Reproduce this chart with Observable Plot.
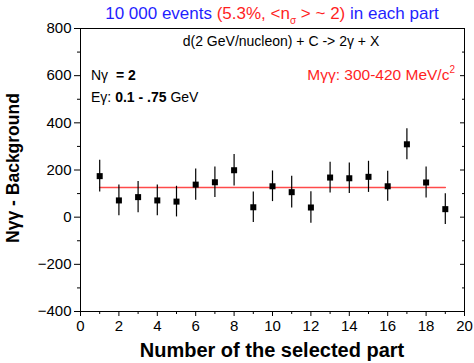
<!DOCTYPE html>
<html>
<head>
<meta charset="utf-8">
<script src="https://cdn.jsdelivr.net/npm/d3@7"></script>
<script src="https://cdn.jsdelivr.net/npm/@observablehq/plot@0.6"></script>
<style>
  html, body { margin: 0; padding: 0; background: #fff; }
  #chart { width: 474px; height: 363px; }
</style>
</head>
<body>
<div id="chart"></div>
<script>
// Data
const parts  = [1, 2, 3, 4, 5, 6, 7, 8, 9, 10, 11, 12, 13, 14, 15, 16, 17, 18, 19];
const values = [174, 71, 85, 71, 66, 138, 148, 199, 42, 131, 106, 41, 168, 165, 171, 131, 309, 147, 34];
const errors = [67, 65, 66, 65, 65, 66, 65, 67, 65, 65, 67, 67, 65, 65, 66, 64, 66, 66, 65];
const fitX = [1, 19];
const fitY = [126, 126];
const yMajor = [-400, -200, 0, 200, 400, 600, 800];
const yMinor = [-300, -100, 100, 300, 500, 700];
const xMajor = [0, 2, 4, 6, 8, 10, 12, 14, 16, 18, 20];
const xMinor = [1, 3, 5, 7, 9, 11, 13, 15, 17, 19];

const data = parts.map((p, i) => ({part: p, v: values[i], lo: values[i] - errors[i], hi: values[i] + errors[i]}));
const fit = fitX.map((x, i) => ({x, y: fitY[i]}));

const font = "'Liberation Sans', Arial, sans-serif";
const blank = () => "";

const plot = Plot.plot({
  width: 474,
  height: 363,
  marginLeft: 80,
  marginRight: 10,
  marginTop: 28,
  marginBottom: 52,
  style: {fontFamily: font, fontSize: "15px", color: "#000", background: "#fff"},
  x: {domain: [0, 20], label: null},
  y: {domain: [-400, 800], label: null},
  marks: [
    Plot.frame({stroke: "#000", strokeWidth: 1}),
    Plot.axisY({ticks: yMajor, tickSize: 6, tickPadding: 3, fontSize: 15, label: null}),
    Plot.axisY({ticks: yMinor, tickSize: 3, tickFormat: blank, label: null}),
    Plot.axisY({anchor: "right", ticks: yMajor, tickSize: 5, dx: -5, tickFormat: blank, label: null}),
    Plot.axisY({anchor: "right", ticks: yMinor, tickSize: 3, dx: -3, tickFormat: blank, label: null}),
    Plot.axisX({ticks: xMajor, tickSize: 5, tickPadding: 4, fontSize: 15, label: null}),
    Plot.axisX({ticks: xMinor, tickSize: 3, tickFormat: blank, label: null}),
    Plot.line(fit, {x: "x", y: "y", stroke: "#ff2a2a", strokeWidth: 1.6, strokeOpacity: 0.85}),
    Plot.ruleX(data, {x: "part", y1: "lo", y2: "hi", stroke: "#000", strokeWidth: 1.2}),
    Plot.dot(data, {x: "part", y: "v", symbol: "square", r: 3.4, fill: "#000", stroke: "none"})
  ]
});

document.getElementById("chart").appendChild(plot);

const svg = d3.select(plot);
const blue = "#1f1fff", red = "#ff1f1f";

function txt(x, y, anchor, size) {
  return svg.append("text").attr("x", x).attr("y", y).attr("text-anchor", anchor)
    .attr("font-family", font).attr("font-size", size).attr("fill", "#000");
}

// Title with mixed colours
const t = txt(272, 19, "middle", 17);
t.append("tspan").attr("fill", blue).text("10 000 events ");
t.append("tspan").attr("fill", red).text("(5.3%, <n");
t.append("tspan").attr("fill", red).attr("font-size", 10).attr("dy", 5).text("σ");
t.append("tspan").attr("fill", red).attr("dy", -5).text(" > ~ 2)");
t.append("tspan").attr("fill", blue).text(" in each part");

// Reaction
txt(281, 46, "middle", 14).text("d(2 GeV/nucleon) + C -> 2γ + X");

// N gamma
const n = txt(91, 80, "start", 14);
n.append("tspan").text("Nγ ");
n.append("tspan").attr("font-weight", "bold").text(" = 2");

// E gamma
const e = txt(91, 102, "start", 14);
e.append("tspan").text("Eγ: ");
e.append("tspan").attr("font-weight", "bold").text("0.1 - .75");
e.append("tspan").text(" GeV");

// M gamma gamma
const m = txt(455, 80, "end", 15.5).attr("fill", red);
m.append("tspan").text("Mγγ: 300-420 MeV/c");
m.append("tspan").attr("font-size", 10).attr("dy", -7).text("2");

// Axis titles
txt(272, 357, "middle", 20).attr("font-weight", "bold").text("Number of the selected part");

txt(0, 0, "middle", 17.5).attr("transform", "translate(19,168) rotate(-90)")
  .attr("font-weight", "bold").text("Nγγ - Background");
</script>
</body>
</html>
